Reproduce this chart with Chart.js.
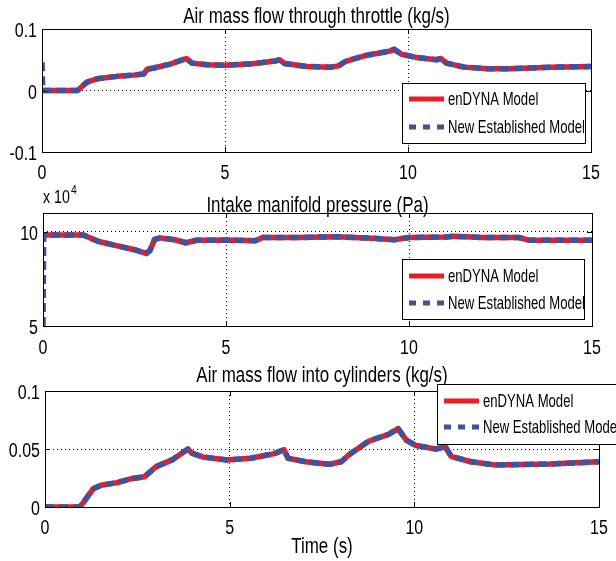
<!DOCTYPE html>
<html>
<head>
<meta charset="utf-8">
<script src="https://cdn.jsdelivr.net/npm/chart.js@4.4.1/dist/chart.umd.min.js"></script>
<style>
  html, body { margin: 0; padding: 0; background: #fff; }
  #wrap { position: relative; width: 616px; height: 561px; overflow: hidden; }
  canvas { position: absolute; left: 0; }
</style>
</head>
<body>
<div id="wrap">
  <canvas id="throttle" width="616" height="185" style="top:0px"></canvas>
  <canvas id="manifold" width="616" height="180" style="top:185px"></canvas>
  <canvas id="cylinders" width="616" height="196" style="top:365px"></canvas>
</div>
<script>
// --- data ---
const seriesNames = ['enDYNA Model', 'New Established Model'];
const timeTicks = [0, 5, 10, 15];
const timeLabels = ['0', '5', '10', '15'];

// Air mass flow through throttle (kg/s)
const throttleTime    = [0, 0.02, 0.97, 1.1, 1.23, 1.5, 2.05, 2.5, 2.78, 2.87, 3.05, 3.5, 3.87, 3.95, 4.1, 4.5, 5.0, 5.74, 6.38, 6.49, 6.62, 7.24, 7.89, 8.1, 8.3, 8.85, 9.5, 9.62, 9.82, 10.25, 10.78, 10.9, 11.05, 11.53, 12.18, 12.8, 13.9, 15];
const throttleEnDyna  = [0, 0, 0, 0.007, 0.0137, 0.019, 0.023, 0.025, 0.027, 0.0345, 0.0366, 0.043, 0.0505, 0.052, 0.0445, 0.042, 0.041, 0.0435, 0.048, 0.050, 0.044, 0.039, 0.038, 0.040, 0.0475, 0.057, 0.064, 0.067, 0.059, 0.0535, 0.050, 0.052, 0.0445, 0.038, 0.0355, 0.0355, 0.038, 0.039];
const throttleNew     = [0.046, 0, 0, 0.007, 0.0137, 0.019, 0.023, 0.025, 0.027, 0.0345, 0.0366, 0.043, 0.0505, 0.052, 0.0445, 0.042, 0.041, 0.0435, 0.048, 0.050, 0.044, 0.039, 0.038, 0.040, 0.0475, 0.057, 0.064, 0.067, 0.059, 0.0535, 0.050, 0.052, 0.0445, 0.038, 0.0355, 0.0355, 0.038, 0.039];
const throttleTicks   = [-0.1, 0, 0.1];
const throttleLabels  = ['-0.1', '0', '0.1'];

// Intake manifold pressure (Pa), x 10^4
const manifoldTime    = [0, 0.02, 1.1, 1.5, 2.0, 2.5, 2.82, 2.92, 3.05, 3.2, 3.6, 3.9, 4.2, 5.0, 5.8, 6.0, 7.0, 8.0, 9.0, 9.6, 10.0, 11.0, 11.2, 12.0, 13.0, 13.3, 15];
const manifoldEnDyna  = [9.83, 9.83, 9.83, 9.5, 9.27, 9.05, 8.85, 9.0, 9.6, 9.68, 9.58, 9.42, 9.55, 9.56, 9.53, 9.7, 9.7, 9.74, 9.66, 9.58, 9.7, 9.72, 9.76, 9.7, 9.7, 9.55, 9.55];
const manifoldNew     = [5, 9.83, 9.83, 9.5, 9.27, 9.05, 8.85, 9.0, 9.6, 9.68, 9.58, 9.42, 9.55, 9.56, 9.53, 9.7, 9.7, 9.74, 9.66, 9.58, 9.7, 9.72, 9.76, 9.7, 9.7, 9.55, 9.55];
const manifoldTicks   = [5, 10];
const manifoldLabels  = ['5', '10'];

// Air mass flow into cylinders (kg/s)
const cylTime         = [0, 0.94, 1.04, 1.31, 1.52, 1.95, 2.37, 2.69, 2.8, 3.01, 3.44, 3.87, 3.97, 4.29, 4.93, 5.57, 6.21, 6.47, 6.58, 7.06, 7.7, 8.02, 8.23, 8.76, 9.3, 9.56, 9.78, 10.04, 10.58, 10.84, 11.0, 11.53, 12.17, 13.66, 15];
const cylEnDyna       = [0, 0, 0.004, 0.0158, 0.0187, 0.021, 0.0246, 0.026, 0.029, 0.0348, 0.0406, 0.050, 0.0465, 0.043, 0.0406, 0.042, 0.046, 0.0494, 0.042, 0.039, 0.0368, 0.039, 0.045, 0.0567, 0.0626, 0.0675, 0.0576, 0.053, 0.050, 0.0518, 0.0436, 0.039, 0.0363, 0.037, 0.039];
const cylNew          = [0, 0, 0.004, 0.0158, 0.0187, 0.021, 0.0246, 0.026, 0.029, 0.0348, 0.0406, 0.050, 0.0465, 0.043, 0.0406, 0.042, 0.046, 0.0494, 0.042, 0.039, 0.0368, 0.039, 0.045, 0.0567, 0.0626, 0.0675, 0.0576, 0.053, 0.050, 0.0518, 0.0436, 0.039, 0.0363, 0.037, 0.039];
const cylTicks        = [0, 0.05, 0.1];
const cylLabels       = ['0', '0.05', '0.1'];

// --- styling ---
const FONT = "'Liberation Sans', Arial, sans-serif";
const RED  = '#ed1c24';
const BLUE = '#3a53a4';
Chart.defaults.font.family = FONT;
Chart.defaults.color = '#000';

// text squeezed horizontally, like the condensed MATLAB export
function squeezed(ctx, text, x, y, size, sx, align, baseline) {
  ctx.save();
  ctx.font = size + 'px ' + FONT;
  ctx.textAlign = align;
  ctx.textBaseline = baseline || 'middle';
  ctx.translate(x, y);
  ctx.scale(sx, 1);
  ctx.fillText(text, 0, 0);
  const w = ctx.measureText(text).width * sx;
  ctx.restore();
  return w;
}

// box, inward ticks, tick labels, title, legend, exponent
const panelDecor = {
  id: 'panelDecor',
  afterDraw(chart, args, opts) {
    const { ctx, chartArea: a, scales } = chart;
    const xs = scales.x, ys = scales.y;
    ctx.save();

    // axes box
    ctx.strokeStyle = '#000';
    ctx.lineWidth = 1;
    ctx.setLineDash([]);
    ctx.strokeRect(Math.round(a.left) + 0.5, Math.round(a.top) + 0.5,
                   Math.round(a.right - a.left), Math.round(a.bottom - a.top));

    // inward tick marks
    const tl = 5;
    ctx.beginPath();
    xs.ticks.forEach(t => {
      const px = Math.round(xs.getPixelForValue(t.value)) + 0.5;
      ctx.moveTo(px, a.bottom); ctx.lineTo(px, a.bottom - tl);
      ctx.moveTo(px, a.top);    ctx.lineTo(px, a.top + tl);
    });
    ys.ticks.forEach(t => {
      const py = Math.round(ys.getPixelForValue(t.value)) + 0.5;
      ctx.moveTo(a.left, py);  ctx.lineTo(a.left + tl, py);
      ctx.moveTo(a.right, py); ctx.lineTo(a.right - tl, py);
    });
    ctx.stroke();

    // tick labels
    ctx.fillStyle = '#000';
    timeTicks.forEach((v, i) => {
      squeezed(ctx, timeLabels[i], xs.getPixelForValue(v), a.bottom + opts.xLabelDy, 20, 0.8, 'center');
    });
    opts.yTicks.forEach((v, i) => {
      squeezed(ctx, opts.yLabels[i], a.left - 5, ys.getPixelForValue(v) + 2.5, 20, 0.8, 'right');
    });

    // title
    squeezed(ctx, opts.title, (a.left + a.right) / 2, opts.titleY, 22, 0.77, 'center');
    if (opts.xTitle) {
      squeezed(ctx, opts.xTitle, (a.left + a.right) / 2, opts.xTitleY, 22, 0.77, 'center');
    }

    // exponent label (x 10^4)
    if (opts.exponent) {
      const w = squeezed(ctx, 'x 10', a.left, opts.exponent.y, 19, 0.75, 'left', 'alphabetic');
      squeezed(ctx, opts.exponent.power, a.left + w + 1, opts.exponent.y - 9, 13, 0.8, 'left', 'alphabetic');
    }

    // legend
    const lg = opts.legend;
    ctx.fillStyle = '#fff';
    ctx.fillRect(lg.x, lg.y, lg.w, lg.h);
    ctx.strokeStyle = '#000';
    ctx.lineWidth = 1;
    ctx.strokeRect(lg.x + 0.5, lg.y + 0.5, lg.w, lg.h);
    chart.data.datasets.forEach((ds, i) => {
      const y = lg.y + lg.rows[i];
      ctx.beginPath();
      ctx.strokeStyle = ds.borderColor;
      ctx.lineWidth = 5;
      ctx.setLineDash(ds.legendDash || []);
      ctx.moveTo(lg.x + 7, y);
      ctx.lineTo(lg.x + 42, y);
      ctx.stroke();
      ctx.setLineDash([]);
      ctx.fillStyle = '#000';
      squeezed(ctx, ds.label, lg.x + 46, y + 1, 19, 0.69, 'left');
    });

    ctx.restore();
  }
};

function toPoints(xs, ys) {
  return xs.map((x, i) => ({ x, y: ys[i] }));
}

function makePanel(id, p) {
  const ctx = document.getElementById(id).getContext('2d');
  return new Chart(ctx, {
    type: 'line',
    data: {
      datasets: [
        { label: seriesNames[0], data: toPoints(p.time, p.red), borderColor: RED,
          borderWidth: 5.5, pointRadius: 0, borderJoinStyle: 'round', order: 2 },
        { label: seriesNames[1], data: toPoints(p.time, p.blue), borderColor: BLUE,
          borderWidth: 5.5, pointRadius: 0, borderDash: [9, 5], legendDash: [7, 7],
          borderJoinStyle: 'round', order: 1 }
      ]
    },
    options: {
      responsive: false,
      animation: false,
      layout: { padding: { left: 0, top: p.area.top, right: 616 - p.area.right, bottom: 0 } },
      plugins: {
        legend: { display: false },
        tooltip: { enabled: false },
        panelDecor: {
          title: p.title, titleY: p.titleY, xTitle: p.xTitle, xTitleY: p.xTitleY,
          legend: p.legend, exponent: p.exponent, xLabelDy: p.xLabelDy,
          yTicks: p.yTicks, yLabels: p.yLabels
        }
      },
      scales: {
        x: {
          type: 'linear', min: 0, max: 15,
          afterBuildTicks: s => { s.ticks = timeTicks.map(v => ({ value: v })); },
          afterFit: s => { s.height = p.xHeight; },
          grid: { color: '#000', lineWidth: 1, drawTicks: false },
          border: { display: false, dash: [1, 3] },
          ticks: { display: false }
        },
        y: {
          type: 'linear', min: p.yMin, max: p.yMax,
          afterBuildTicks: s => { s.ticks = p.yTicks.map(v => ({ value: v })); },
          afterFit: s => { s.width = p.area.left; },
          grid: { color: '#000', lineWidth: 1, drawTicks: false },
          border: { display: false, dash: [1, 3] },
          ticks: { display: false }
        }
      }
    },
    plugins: [panelDecor]
  });
}

makePanel('throttle', {
  time: throttleTime, red: throttleEnDyna, blue: throttleNew,
  yMin: -0.1, yMax: 0.1, yTicks: throttleTicks, yLabels: throttleLabels,
  area: { left: 42, right: 591, top: 29 }, xHeight: 33, xLabelDy: 21,
  title: 'Air mass flow through throttle (kg/s)', titleY: 17,
  legend: { x: 402, y: 83, w: 183, h: 60, rows: [16, 44] }
});

makePanel('manifold', {
  time: manifoldTime, red: manifoldEnDyna, blue: manifoldNew,
  yMin: 5, yMax: 11, yTicks: manifoldTicks, yLabels: manifoldLabels,
  area: { left: 43, right: 592, top: 28 }, xHeight: 39, xLabelDy: 22,
  title: 'Intake manifold pressure (Pa)', titleY: 21,
  exponent: { y: 18, power: '4' },
  legend: { x: 402, y: 74, w: 182, h: 60, rows: [17, 44] }
});

makePanel('cylinders', {
  time: cylTime, red: cylEnDyna, blue: cylNew,
  yMin: 0, yMax: 0.1, yTicks: cylTicks, yLabels: cylLabels,
  area: { left: 45, right: 599, top: 26 }, xHeight: 54, xLabelDy: 21,
  title: 'Air mass flow into cylinders (kg/s)', titleY: 11,
  xTitle: 'Time (s)', xTitleY: 182,
  legend: { x: 437, y: 19, w: 183, h: 60, rows: [17, 43] }
});
</script>
</body>
</html>
